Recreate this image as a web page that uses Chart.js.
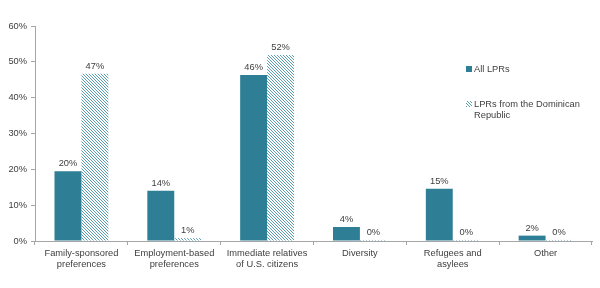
<!DOCTYPE html>
<html>
<head>
<meta charset="utf-8">
<script src="https://cdn.jsdelivr.net/npm/chart.js@4.4.1/dist/chart.umd.min.js"></script>
<style>
  html, body { margin: 0; padding: 0; background: #fff; }
  #wrap { width: 600px; height: 288px; }
</style>
</head>
<body>
<div id="wrap"><canvas id="chart" width="600" height="288"></canvas></div>
<script>
// --- Data ---
const categories = [
    ['Family-sponsored', 'preferences'],
    ['Employment-based', 'preferences'],
    ['Immediate relatives', 'of U.S. citizens'],
    'Diversity',
    ['Refugees and', 'asylees'],
    'Other'
];
const allLprs = [19.5, 14.0, 46.3, 3.9, 14.6, 1.5];
const allLprsLabels = ['20%', '14%', '46%', '4%', '15%', '2%'];
const dominican = [46.7, 0.8, 51.9, 0.3, 0.3, 0.3];
const dominicanLabels = ['47%', '1%', '52%', '0%', '0%', '0%'];
const yTicks = [0, 10, 20, 30, 40, 50, 60];

const TEAL = '#2e7f96';
const TEXT = '#404040';
const AXIS = '#a6a6a6';
const FONT = '"Liberation Sans", Arial, sans-serif';
const FSIZE = 9.3;

// diagonal hatch for the Dominican Republic series
const makeHatch = () => {
    const n = 3;
    const c = document.createElement('canvas');
    c.width = n; c.height = n;
    const g = c.getContext('2d');
    g.fillStyle = '#ffffff';
    g.fillRect(0, 0, n, n);
    g.fillStyle = '#5a9db1';
    for (let i = 0; i < n; i++) g.fillRect(i, i, 1, 1);
    return g.createPattern(c, 'repeat');
};
const hatch = makeHatch();

// value labels above each bar
const barLabels = {
    id: 'barLabels',
    afterDatasetsDraw(chart) {
        const ctx = chart.ctx;
        const texts = [allLprsLabels, dominicanLabels];
        ctx.save();
        ctx.font = FSIZE + 'px ' + FONT;
        ctx.fillStyle = TEXT;
        ctx.textAlign = 'center';
        ctx.textBaseline = 'alphabetic';
        chart.data.datasets.forEach((ds, di) => {
            chart.getDatasetMeta(di).data.forEach((bar, i) => {
                ctx.fillText(texts[di][i], bar.x, bar.y - 5);
            });
        });
        ctx.restore();
    }
};

// legend sitting inside the plot, right side
const sideLegend = {
    id: 'sideLegend',
    afterDraw(chart) {
        const ctx = chart.ctx;
        ctx.save();
        ctx.font = FSIZE + 'px ' + FONT;
        ctx.textBaseline = 'middle';
        ctx.textAlign = 'left';
        ctx.fillStyle = TEAL;
        ctx.fillRect(466, 66, 6, 6);
        ctx.fillStyle = hatch;
        ctx.fillRect(466, 101, 6, 6);
        ctx.fillStyle = TEXT;
        ctx.fillText('All LPRs', 474, 69.5);
        ctx.fillText('LPRs from the Dominican', 474, 104.5);
        ctx.fillText('Republic', 474, 115.5);
        ctx.restore();
    }
};

new Chart(document.getElementById('chart').getContext('2d'), {
    type: 'bar',
    data: {
        labels: categories,
        datasets: [{
            label: 'All LPRs', data: allLprs,
            backgroundColor: TEAL, borderWidth: 0
        }, {
            label: 'LPRs from the Dominican Republic', data: dominican,
            backgroundColor: hatch, borderWidth: 0
        }]
    },
    options: {
        responsive: false,
        animation: false,
        devicePixelRatio: 1,
        layout: { padding: { top: 26, right: 8, left: 0, bottom: 0 } },
        datasets: { bar: { categoryPercentage: 0.58, barPercentage: 1.0 } },
        plugins: { legend: { display: false }, tooltip: { enabled: false } },
        scales: {
            x: {
                grid: { offset: true, drawOnChartArea: false, tickLength: 4, color: AXIS },
                border: { color: AXIS, width: 1 },
                ticks: { color: TEXT, font: { family: FONT, size: FSIZE, lineHeight: 1.2 }, padding: 3, maxRotation: 0, autoSkip: false },
                afterFit: (s) => { s.height = 47; }
            },
            y: {
                min: 0, max: 60,
                afterBuildTicks: (s) => { s.ticks = yTicks.map(v => ({ value: v })); },
                grid: { drawOnChartArea: false, tickLength: 4, color: AXIS },
                border: { color: AXIS, width: 1 },
                ticks: { color: TEXT, font: { family: FONT, size: FSIZE }, padding: 4, callback: (v) => v + '%' },
                afterFit: (s) => { s.width = 35; }
            }
        }
    },
    plugins: [barLabels, sideLegend]
});
</script>
</body>
</html>
